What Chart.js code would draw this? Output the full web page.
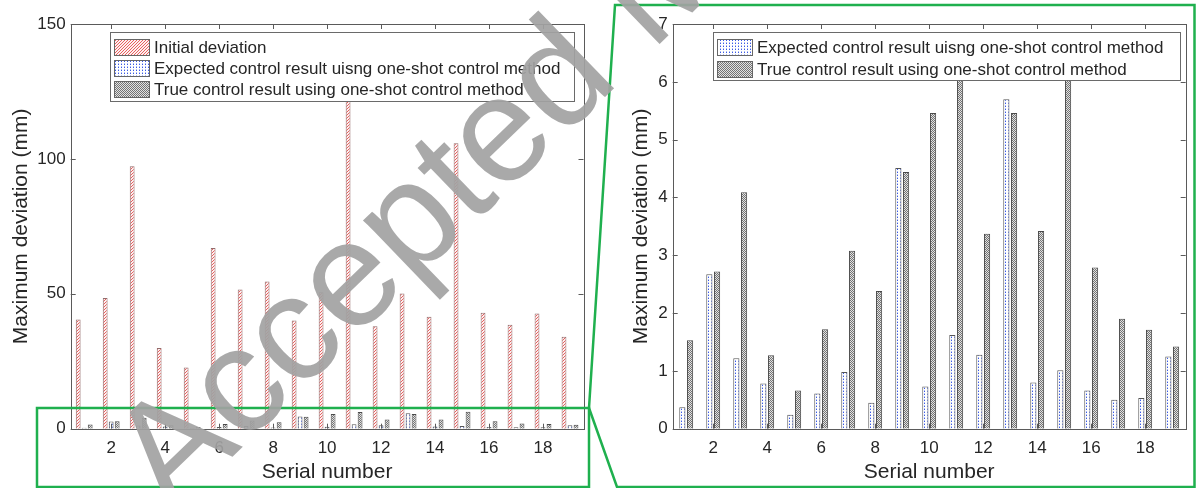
<!DOCTYPE html>
<html><head><meta charset="utf-8">
<script src="https://cdn.jsdelivr.net/npm/chart.js@4.4.0/dist/chart.umd.min.js"></script>
<style>
html,body{margin:0;padding:0;background:#fff;}
#wrap{position:relative;width:1196px;height:488px;overflow:hidden;background:#fff;}
canvas{position:absolute;top:0;}
#c1{left:0;}
#c2{left:620px;}
svg{position:absolute;left:0;top:0;pointer-events:none;}
</style></head><body>
<div id="wrap">
<canvas id="c1" width="598" height="488"></canvas>
<canvas id="c2" width="576" height="488"></canvas>
<svg width="1196" height="488" xmlns="http://www.w3.org/2000/svg">
  <g fill="none" stroke="#1fb04e" stroke-width="2.5">
    <rect x="37" y="408" width="552" height="79"/>
    <path d="M589,408 L615,5 L1194.5,5 L1194.5,487 L617,487 Z"/>
  </g>
  <text x="171" y="516" transform="rotate(-44 171 516)" font-family="Liberation Sans, Arial, sans-serif" font-size="150" fill="#a2a2a2" fill-opacity="0.92">Accepted Manuscript</text>
</svg>
</div>
<script>
const categories = ['1','2','3','4','5','6','7','8','9','10','11','12','13','14','15','16','17','18','19'];
const initialDeviation = [40.5, 48.4, 97.3, 29.9, 22.7, 67.0, 51.6, 54.6, 40.1, 50.6, 128.0, 38.0, 50.1, 41.5, 105.8, 43.0, 38.5, 42.7, 34.1];
const expectedResult = [0.37, 2.67, 1.22, 0.78, 0.24, 0.61, 0.98, 0.45, 4.51, 0.73, 1.62, 1.28, 5.70, 0.80, 1.01, 0.66, 0.50, 0.53, 1.25];
const trueResult = [1.53, 2.72, 4.09, 1.27, 0.66, 1.72, 3.08, 2.38, 4.44, 5.46, 6.20, 3.37, 5.46, 3.42, 6.30, 2.79, 1.90, 1.71, 1.42];
const leftYTicks = [0, 50, 100, 150];
const rightYTicks = [0, 1, 2, 3, 4, 5, 6, 7];
const labelInitial = 'Initial deviation';
const labelExpected = 'Expected control result uisng one-shot control method';
const labelTrue = 'True control result using one-shot control method';
const xTitle = 'Serial number';
const yTitle = 'Maximum deviation (mm)';

const FONT = "'Liberation Sans', Arial, Helvetica, sans-serif";
const TXT = '#262626';

function makeTile(w, h, draw) {
  const c = document.createElement('canvas'); c.width = w; c.height = h;
  const g = c.getContext('2d'); draw(g);
  return document.createElement('canvas').getContext('2d').createPattern(c, 'repeat');
}
const hatch = makeTile(3, 3, g => {
  g.fillStyle = '#fdf0f0'; g.fillRect(0, 0, 3, 3);
  g.fillStyle = '#e8605f';
  for (let i = 0; i < 3; i++) g.fillRect(2 - i, i, 1, 1);
});
const dots = makeTile(3, 3, g => {
  g.fillStyle = '#fff'; g.fillRect(0, 0, 3, 3);
  g.fillStyle = '#3a5ae6'; g.fillRect(1, 1, 1, 1);
  g.fillStyle = 'rgba(90,120,235,0.5)'; g.fillRect(1, 0, 1, 1);
});
const cross = makeTile(2, 2, g => {
  g.fillStyle = '#e2e2e2'; g.fillRect(0, 0, 2, 2);
  g.fillStyle = '#747474'; g.fillRect(0, 0, 1, 1); g.fillRect(1, 1, 1, 1);
});

const framePlugin = {
  id: 'frame',
  afterDatasetsDraw(chart) {
    const ctx = chart.ctx, a = chart.chartArea, xs = chart.scales.x, ys = chart.scales.y;
    ctx.save();
    ctx.strokeStyle = '#5a5a5a'; ctx.lineWidth = 1;
    ctx.strokeRect(Math.round(a.left) + 0.5, Math.round(a.top) + 0.5, Math.round(a.right - a.left), Math.round(a.bottom - a.top));
    ctx.beginPath();
    categories.forEach((c, i) => {
      if ((i + 1) % 2 !== 0) return;
      const px = Math.round(xs.getPixelForValue(i)) + 0.5;
      ctx.moveTo(px, a.bottom); ctx.lineTo(px, a.bottom - 5);
      ctx.moveTo(px, a.top); ctx.lineTo(px, a.top + 5);
    });
    ys.ticks.forEach(t => {
      const py = Math.round(ys.getPixelForValue(t.value)) + 0.5;
      ctx.moveTo(a.left, py); ctx.lineTo(a.left + 5, py);
      ctx.moveTo(a.right, py); ctx.lineTo(a.right - 5, py);
    });
    ctx.stroke();
    const L = chart.options.plugins.boxLegend;
    ctx.fillStyle = '#fff';
    ctx.fillRect(L.x, L.y, L.w, L.h);
    ctx.strokeStyle = '#6a6a6a';
    ctx.strokeRect(L.x + 0.5, L.y + 0.5, L.w, L.h);
    ctx.font = '17px ' + FONT;
    ctx.textBaseline = 'middle';
    chart.data.datasets.forEach((ds, i) => {
      const cy = L.y + L.first + i * L.step;
      ctx.fillStyle = ds.backgroundColor;
      ctx.fillRect(L.x + 4, cy - 8, 35, 16);
      ctx.strokeStyle = '#666';
      ctx.strokeRect(L.x + 4.5, cy - 7.5, 35, 16);
      ctx.fillStyle = TXT;
      ctx.fillText(ds.label, L.x + 44, cy + 1);
    });
    ctx.restore();
  }
};

function makeChart(id, datasets, yMax, yTicks, yAxisW, rightPad, legendBox, catPct) {
  return new Chart(document.getElementById(id), {
    type: 'bar',
    data: { labels: categories, datasets },
    plugins: [framePlugin],
    options: {
      responsive: false, animation: false, devicePixelRatio: 1,
      layout: { padding: { left: 0, right: rightPad, top: 24, bottom: 0 } },
      datasets: { bar: { categoryPercentage: catPct, barPercentage: 0.8 } },
      plugins: { legend: { display: false }, tooltip: { enabled: false }, boxLegend: legendBox },
      scales: {
        x: {
          grid: { display: false, drawTicks: false }, border: { display: false },
          ticks: { autoSkip: false, maxRotation: 0, padding: 9, color: TXT, font: { family: FONT, size: 17 },
            callback: (v, i) => ((i + 1) % 2 === 0 ? categories[i] : '') },
          title: { display: true, text: xTitle, color: TXT, font: { family: FONT, size: 21 }, padding: { top: 0, bottom: 3 } },
          afterFit: s => { s.height = 59.3; }
        },
        y: {
          min: 0, max: yMax,
          afterBuildTicks: s => { s.ticks = yTicks.map(v => ({ value: v })); },
          grid: { display: false, drawTicks: false }, border: { display: false },
          ticks: { padding: 5, color: TXT, font: { family: FONT, size: 17 } },
          title: { display: true, text: yTitle, color: TXT, font: { family: FONT, size: 21 }, padding: { top: 9, bottom: 0 } },
          afterFit: s => { s.width = yAxisW; }
        }
      }
    }
  });
}

makeChart('c1', [
  { label: labelInitial, data: initialDeviation, backgroundColor: hatch, borderColor: 'rgba(120,70,70,0.8)', borderWidth: 1 },
  { label: labelExpected, data: expectedResult, backgroundColor: dots, borderColor: '#555', borderWidth: 1 },
  { label: labelTrue, data: trueResult, backgroundColor: cross, borderColor: '#4a4a4a', borderWidth: 1 }
], 150, leftYTicks, 70.7, 14.5, { x: 110, y: 32, w: 464, h: 69, first: 15, step: 21 }, 0.667);

makeChart('c2', [
  { label: labelExpected, data: expectedResult, backgroundColor: dots, borderColor: '#555', borderWidth: 1 },
  { label: labelTrue, data: trueResult, backgroundColor: cross, borderColor: '#4a4a4a', borderWidth: 1 }
], 7, rightYTicks, 52.7, 10.3, { x: 93, y: 32, w: 467, h: 48, first: 15, step: 22 }, 0.571);
</script>
</body></html>
